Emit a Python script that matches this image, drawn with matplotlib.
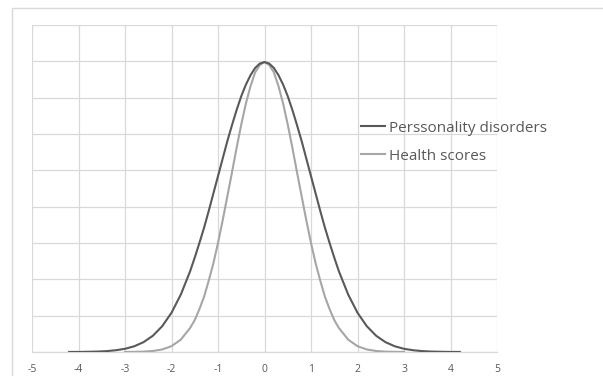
import matplotlib
matplotlib.use("Agg")
import matplotlib.pyplot as plt
from matplotlib.patches import Rectangle

# values (y is density)
x_pers = [-4.2, -4.0, -3.8, -3.6, -3.4, -3.2, -3.0, -2.8, -2.6, -2.4, -2.2,
          -2.0, -1.8, -1.6, -1.5, -1.4, -1.3, -1.2, -1.1, -1.0, -0.9, -0.8,
          -0.7, -0.6, -0.5, -0.4, -0.3, -0.2, -0.1, 0.0, 0.1, 0.2, 0.3, 0.4,
          0.5, 0.6, 0.7, 0.8, 0.9, 1.0, 1.1, 1.2, 1.3, 1.4, 1.5, 1.6, 1.8,
          2.0, 2.2, 2.4, 2.6, 2.8, 3.0, 3.2, 3.4, 3.6, 3.8, 4.0, 4.2]
y_pers = [0.0001, 0.0001, 0.0003, 0.0006, 0.0012, 0.0024, 0.0044, 0.0079,
          0.0136, 0.0224, 0.0355, 0.054, 0.079, 0.111, 0.130, 0.150, 0.171,
          0.194, 0.218, 0.242, 0.266, 0.290, 0.312, 0.333, 0.352, 0.368,
          0.381, 0.391, 0.397, 0.399, 0.397, 0.391, 0.381, 0.368, 0.352,
          0.333, 0.312, 0.290, 0.266, 0.242, 0.218, 0.194, 0.171, 0.150,
          0.130, 0.111, 0.079, 0.054, 0.0355, 0.0224, 0.0136, 0.0079,
          0.0044, 0.0024, 0.0012, 0.0006, 0.0003, 0.0001, 0.0001]

x_health = [-3.0, -2.8, -2.6, -2.4, -2.2, -2.0, -1.8, -1.6, -1.5, -1.4, -1.3,
            -1.2, -1.1, -1.0, -0.9, -0.8, -0.7, -0.6, -0.5, -0.4, -0.3, -0.2,
            -0.1, 0.0, 0.1, 0.2, 0.3, 0.4, 0.5, 0.6, 0.7, 0.8, 0.9, 1.0, 1.1,
            1.2, 1.3, 1.4, 1.5, 1.6, 1.8, 2.0, 2.2, 2.4, 2.6, 2.8, 3.0]
y_health = [0.0001, 0.0002, 0.0005, 0.0014, 0.0035, 0.008, 0.017, 0.033,
            0.044, 0.059, 0.076, 0.098, 0.122, 0.150, 0.181, 0.214, 0.247,
            0.281, 0.313, 0.342, 0.366, 0.385, 0.395, 0.399, 0.395, 0.385,
            0.366, 0.342, 0.313, 0.281, 0.247, 0.214, 0.181, 0.150, 0.122,
            0.098, 0.076, 0.059, 0.044, 0.033, 0.017, 0.008, 0.0035, 0.0014,
            0.0005, 0.0002, 0.0001]

x_ticks = [-5, -4, -3, -2, -1, 0, 1, 2, 3, 4, 5]
y_grid = [0, 0.05, 0.10, 0.15, 0.20, 0.25, 0.30, 0.35, 0.40, 0.45]

plt.rcParams['font.family'] = ['Open Sans', 'DejaVu Sans']

fig = plt.figure(figsize=(6.03, 3.76), dpi=100)
# chart area border
fig.patches.append(Rectangle((11.5 / 603, -0.1), 1.0, 1.1 - 8.5 / 376,
                             transform=fig.transFigure, fill=False,
                             edgecolor='#d9d9d9', linewidth=1.0))

ax = fig.add_axes([32 / 603, 24 / 376, 465 / 603, 327 / 376])
ax.plot(x_health, y_health, color='#a6a6a6', linewidth=1.5,
        solid_joinstyle='round', label='Health scores', zorder=3)
ax.plot(x_pers, y_pers, color='#595959', linewidth=1.5,
        solid_joinstyle='round', label='Perssonality disorders', zorder=4)

ax.set_xlim(-5, 5)
ax.set_ylim(0, 0.45)
ax.set_xticks(x_ticks)
ax.set_xticklabels([str(t) for t in x_ticks])
ax.set_yticks(y_grid)
ax.set_yticklabels([])
ax.grid(True, color='#d9d9d9', linewidth=0.9)
ax.set_axisbelow(True)
ax.tick_params(length=0, labelsize=7.5, labelcolor='#595959', pad=9)
for s in ['top', 'right', 'left']:
    ax.spines[s].set_visible(False)
ax.spines['bottom'].set_color('#d9d9d9')
ax.spines['bottom'].set_linewidth(0.9)

h, l = ax.get_legend_handles_labels()
leg = ax.legend(h[::-1], l[::-1], loc='upper left', frameon=False,
                fontsize=11, labelcolor='#595959', handlelength=1.6,
                handletextpad=0.25, labelspacing=0.85, borderpad=0)
leg.set_bbox_to_anchor((353 / 603, (376 - 113) / 376), transform=fig.transFigure)

fig.savefig('out.png', dpi=100)
